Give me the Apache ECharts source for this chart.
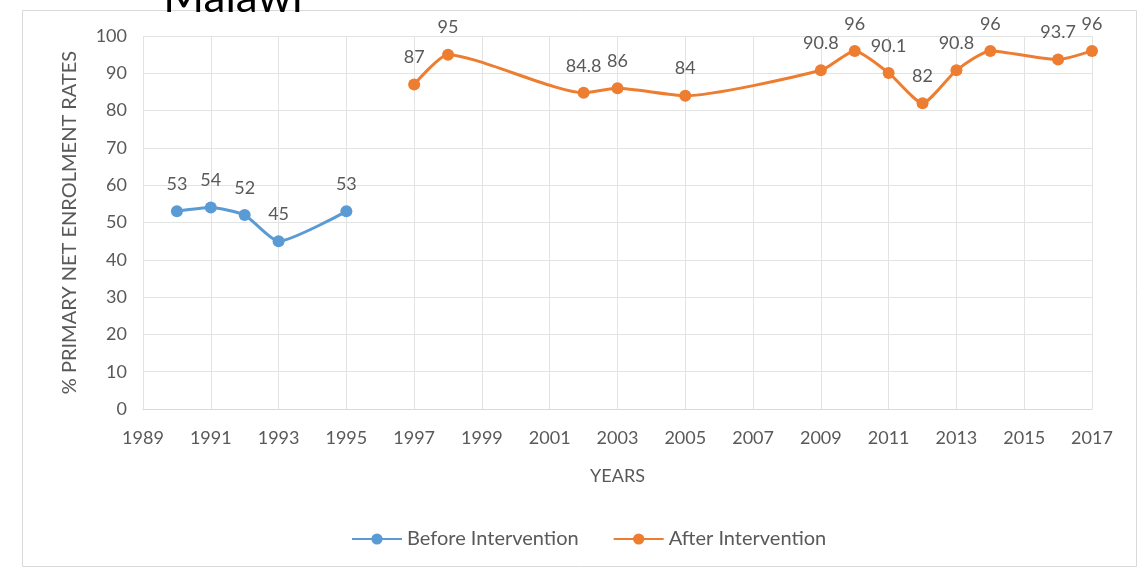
<!DOCTYPE html>
<html>
<head>
<meta charset="utf-8">
<script src="https://cdn.jsdelivr.net/npm/echarts@6/dist/echarts.min.js"></script>
<style>
  html, body { margin: 0; padding: 0; background: #ffffff; }
  #chart { width: 1139px; height: 570px; }
</style>
</head>
<body>
<div id="chart"></div>
<script>
// Year categories shown on the x axis (every year, labelled every other year)
const years = [];
for (let y = 1989; y <= 2017; y++) years.push(String(y));

// Primary net enrolment rates (%) before the intervention
const beforeYears = [1990, 1991, 1992, 1993, 1995];
const beforeValues = [53, 54, 52, 45, 53];

// Primary net enrolment rates (%) after the intervention
const afterYears = [1997, 1998, 2002, 2003, 2005, 2009, 2010, 2011, 2012, 2013, 2014, 2016, 2017];
const afterValues = [87, 95, 84.8, 86, 84, 90.8, 96, 90.1, 82, 90.8, 96, 93.7, 96];

// Place each value on its year category; years without data stay empty
function toCategoryData(ys, vals) {
  return years.map(function (c) {
    const i = ys.indexOf(Number(c));
    return i >= 0 ? vals[i] : null;
  });
}

const FONT = 'Lato';
const labelColor = '#595959';

const chart = echarts.init(document.getElementById('chart'));

const labelStyle = {
  show: true,
  position: 'top',
  distance: 12,
  color: labelColor,
  fontFamily: FONT,
  fontSize: 18
};

chart.setOption({
  animation: false,
  textStyle: { fontFamily: FONT },
  graphic: [
    {
      type: 'rect',
      shape: { x: 22.5, y: 10.5, width: 1114, height: 556 },
      style: { fill: 'none', stroke: '#d9d9d9', lineWidth: 1 },
      silent: true,
      z: -10
    },
    {
      type: 'text',
      style: {
        text: 'Malawi',
        x: 233,
        y: 20,
        textAlign: 'center',
        textVerticalAlign: 'bottom',
        fontFamily: FONT,
        fontSize: 44,
        fill: '#000000'
      },
      z: 10
    }
  ],
  grid: { left: 143, right: 47, top: 36, bottom: 161, containLabel: false },
  xAxis: {
    type: 'category',
    data: years,
    boundaryGap: false,
    name: 'YEARS',
    nameLocation: 'middle',
    nameGap: 58,
    nameTextStyle: { color: labelColor, fontFamily: FONT, fontSize: 18 },
    axisLine: { lineStyle: { color: '#d9d9d9', width: 1 } },
    axisTick: { show: false },
    axisLabel: { interval: 1, color: labelColor, fontFamily: FONT, fontSize: 18, margin: 20 },
    splitLine: { show: true, interval: 1, lineStyle: { color: '#e3e3e3', width: 1 } }
  },
  yAxis: {
    type: 'value',
    min: 0,
    max: 100,
    interval: 10,
    name: '% PRIMARY NET ENROLMENT RATES',
    nameLocation: 'middle',
    nameGap: 63,
    nameTextStyle: { color: labelColor, fontFamily: FONT, fontSize: 20 },
    axisLine: { show: false },
    axisTick: { show: false },
    axisLabel: { color: labelColor, fontFamily: FONT, fontSize: 18, margin: 16 },
    splitLine: { lineStyle: { color: '#e3e3e3', width: 1 } }
  },
  legend: {
    bottom: 16,
    left: 346,
    itemWidth: 50,
    itemHeight: 14,
    itemGap: 34,
    textStyle: { color: labelColor, fontFamily: FONT, fontSize: 20 },
    data: ['Before Intervention', 'After Intervention']
  },
  series: [
    {
      name: 'Before Intervention',
      type: 'line',
      data: toCategoryData(beforeYears, beforeValues),
      connectNulls: true,
      smooth: 0.2,
      symbol: 'circle',
      symbolSize: 12,
      color: '#5B9BD5',
      lineStyle: { width: 3, color: '#5B9BD5' },
      itemStyle: { color: '#5B9BD5' },
      label: labelStyle
    },
    {
      name: 'After Intervention',
      type: 'line',
      data: toCategoryData(afterYears, afterValues),
      connectNulls: true,
      smooth: 0.2,
      symbol: 'circle',
      symbolSize: 12,
      color: '#ED7D31',
      lineStyle: { width: 3, color: '#ED7D31' },
      itemStyle: { color: '#ED7D31' },
      label: labelStyle
    }
  ]
});
</script>
</body>
</html>
